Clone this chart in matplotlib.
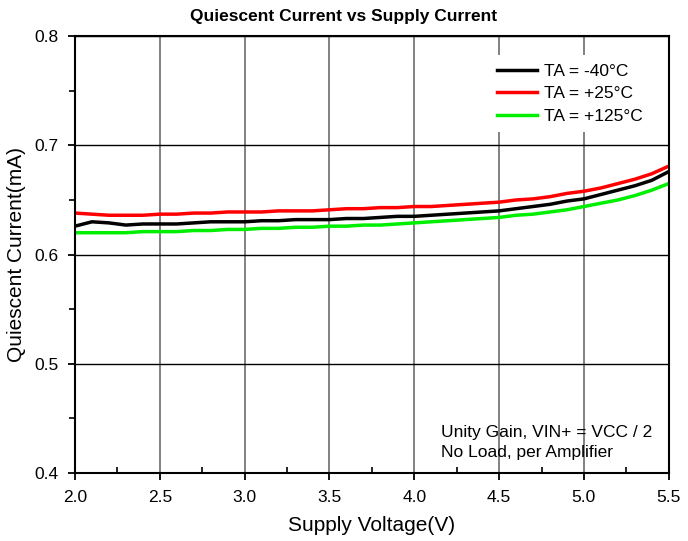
import numpy as np
import matplotlib.pyplot as plt
from matplotlib.ticker import MultipleLocator

plt.rcParams['font.family'] = ['Liberation Sans', 'DejaVu Sans']

# supply voltage (V)
vcc = [2.0, 2.1, 2.2, 2.3, 2.4, 2.5, 2.6, 2.7, 2.8, 2.9,
       3.0, 3.1, 3.2, 3.3, 3.4, 3.5, 3.6, 3.7, 3.8, 3.9,
       4.0, 4.1, 4.2, 4.3, 4.4, 4.5, 4.6, 4.7, 4.8, 4.9,
       5.0, 5.1, 5.2, 5.3, 5.4, 5.5]

# quiescent current (mA)
iq_m40 = [0.626, 0.630, 0.629, 0.627, 0.628, 0.628, 0.628, 0.629, 0.630, 0.630,
          0.630, 0.631, 0.631, 0.632, 0.632, 0.632, 0.633, 0.633, 0.634, 0.635,
          0.635, 0.636, 0.637, 0.638, 0.639, 0.640, 0.642, 0.644, 0.646, 0.649,
          0.651, 0.655, 0.659, 0.663, 0.668, 0.676]
iq_p25 = [0.638, 0.637, 0.636, 0.636, 0.636, 0.637, 0.637, 0.638, 0.638, 0.639,
          0.639, 0.639, 0.640, 0.640, 0.640, 0.641, 0.642, 0.642, 0.643, 0.643,
          0.644, 0.644, 0.645, 0.646, 0.647, 0.648, 0.650, 0.651, 0.653, 0.656,
          0.658, 0.661, 0.665, 0.669, 0.674, 0.681]
iq_p125 = [0.620, 0.620, 0.620, 0.620, 0.621, 0.621, 0.621, 0.622, 0.622, 0.623,
           0.623, 0.624, 0.624, 0.625, 0.625, 0.626, 0.626, 0.627, 0.627, 0.628,
           0.629, 0.630, 0.631, 0.632, 0.633, 0.634, 0.636, 0.637, 0.639, 0.641,
           0.644, 0.647, 0.650, 0.654, 0.659, 0.665]

labels = ['TA = -40\u00b0C', 'TA = +25\u00b0C', 'TA = +125\u00b0C']
colors = ['#000000', '#ff0000', '#00ee00']

fig = plt.figure(figsize=(6.88, 5.41), dpi=100)
ax = fig.add_axes([0.109, 0.126, 0.863, 0.807])

ax.plot(vcc, iq_m40, color=colors[0], lw=2.5, label=labels[0])
ax.plot(vcc, iq_p25, color=colors[1], lw=2.5, label=labels[1])
ax.plot(vcc, iq_p125, color=colors[2], lw=2.5, label=labels[2])

ax.set_xlim(2.0, 5.5)
ax.set_ylim(0.4, 0.8)
ax.xaxis.set_major_locator(MultipleLocator(0.5))
ax.xaxis.set_minor_locator(MultipleLocator(0.25))
ax.yaxis.set_major_locator(MultipleLocator(0.1))
ax.yaxis.set_minor_locator(MultipleLocator(0.05))
fmt = plt.FuncFormatter(lambda v, p: f'{v:.1f}')
ax.xaxis.set_major_formatter(fmt)
ax.yaxis.set_major_formatter(fmt)

ax.grid(axis='x', which='major', color='#777777', lw=1.3)
ax.grid(axis='y', which='major', color='#000000', lw=1.0)
ax.set_axisbelow(True)

ax.tick_params(axis='both', which='major', direction='out', length=5, width=1.3,
               labelsize=12.5)
ax.tick_params(axis='y', which='major', pad=7)
ax.tick_params(axis='x', which='major', pad=7)
ax.tick_params(axis='x', which='minor', direction='in', length=4, width=1.2)
ax.tick_params(axis='y', which='minor', direction='out', length=4, width=1.2)
for s in ax.spines.values():
    s.set_linewidth(1.5)

ax.set_xlabel('Supply Voltage(V)', fontsize=15, labelpad=8)
ax.set_ylabel('Quiescent Current(mA)', fontsize=15, labelpad=6)
fig.text(0.5, 0.984, 'Quiescent Current vs Supply Current', ha='center', va='top',
         fontsize=12.5, fontweight='bold')

leg = ax.legend(loc='upper right', bbox_to_anchor=(0.977, 0.965), frameon=True,
                fontsize=12.5, handlelength=2.3, handletextpad=0.4,
                labelspacing=0.42, borderaxespad=0.3)
leg.get_frame().set_edgecolor('none')
leg.get_frame().set_facecolor('white')
leg.get_frame().set_alpha(1.0)
leg.get_frame().set_boxstyle('square', pad=0.1)

ax.text(0.617, 0.11, 'Unity Gain, VIN+ = VCC / 2\nNo Load, per Amplifier',
        transform=ax.transAxes, fontsize=12.5, ha='left', va='top',
        linespacing=1.4)

fig.savefig('out.png', dpi=100)
